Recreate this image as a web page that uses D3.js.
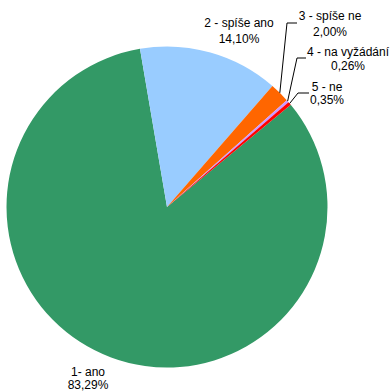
<!DOCTYPE html>
<html>
<head>
<meta charset="utf-8">
<script src="https://cdn.jsdelivr.net/npm/d3@7/dist/d3.min.js"></script>
<style>
  html, body { margin: 0; padding: 0; background: #fff; }
  svg { display: block; }
  text { font-family: "Liberation Sans", Arial, sans-serif; font-size: 12px; fill: #000; }
</style>
</head>
<body>
<script>
// Answer categories and their shares (%)
const categories = ["1- ano", "2 - spíše ano", "3 - spíše ne", "4 - na vyžádání", "5 - ne"];
const shares = [83.29, 14.10, 2.00, 0.26, 0.35];
const shareLabels = ["83,29%", "14,10%", "2,00%", "0,26%", "0,35%"];
const colors = ["#339966", "#99CCFF", "#FF6600", "#CC99FF", "#FF0000"];

const width = 390, height = 392;
const cx = 167, cy = 207, radius = 160.5;
const firstAngle = 50.46 * Math.PI / 180;

// Label placement: [x, y of first line, y of second line]
const labelPos = [
  [88, 376, 389],
  [239, 27, 43],
  [330, 20, 36],
  [348, 56, 70],
  [327, 91, 104]
];
// Leader line elbow and end for the small slices (null = no leader)
const leaders = [
  null,
  null,
  [[287, 23], [297, 23]],
  [[297, 58], [306, 58]],
  [[298, 93], [309, 93]]
];

const svg = d3.select("body").append("svg")
  .attr("width", width).attr("height", height);

const pie = d3.pie().sort(null).value(d => d)
  .startAngle(firstAngle).endAngle(firstAngle + 2 * Math.PI);
const arcs = pie(shares);
const arc = d3.arc().innerRadius(0).outerRadius(radius);

const g = svg.append("g").attr("transform", `translate(${cx},${cy})`);
g.selectAll("path").data(arcs).join("path")
  .attr("d", arc)
  .attr("fill", (d, i) => colors[i]);

// Leader lines from the slice edge to the label
arcs.forEach((a, i) => {
  const ld = leaders[i];
  if (!ld) return;
  const mid = (a.startAngle + a.endAngle) / 2;
  const ex = cx + radius * Math.sin(mid);
  const ey = cy - radius * Math.cos(mid);
  svg.append("polyline")
    .attr("points", [[ex, ey], ld[0], ld[1]].map(p => p.join(",")).join(" "))
    .attr("fill", "none")
    .attr("stroke", "#000")
    .attr("stroke-width", 1);
});

// Category name and share
categories.forEach((c, i) => {
  const [x, y1, y2] = labelPos[i];
  svg.append("text").attr("x", x).attr("y", y1).attr("text-anchor", "middle").text(c);
  svg.append("text").attr("x", x).attr("y", y2).attr("text-anchor", "middle").text(shareLabels[i]);
});
</script>
</body>
</html>
